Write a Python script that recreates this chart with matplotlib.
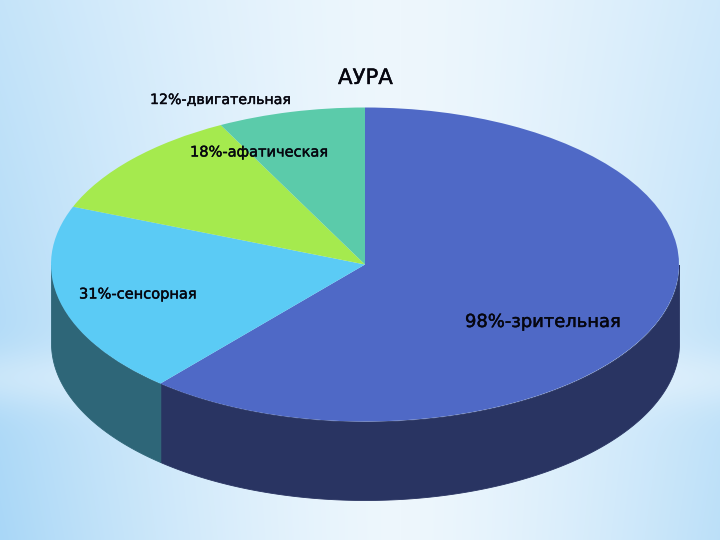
import numpy as np
import matplotlib
matplotlib.use("Agg")
import matplotlib.pyplot as plt
import matplotlib.patheffects as pe
from matplotlib.colors import to_rgb

title = "АУРА"
categories = ["зрительная", "сенсорная", "афатическая", "двигательная"]
percents = [98, 31, 18, 12]              # as printed in the labels
shares = [61.3, 19.7, 11.4, 7.6]         # slice sizes
top_colors = ["#4F69C6", "#5BCBF5", "#A5EA4E", "#5BCBAA"]
side_colors = ["#293462", "#2E6678", "#5A8A2A", "#2F7A66"]

W, H = 720, 540
CX, CY, RX, RY, DEPTH = 365, 264.5, 314, 157, 78.5
FONT = "DejaVu Sans"

fig = plt.figure(figsize=(W / 100, H / 100), dpi=100)

# background gradient
bg = fig.add_axes([0, 0, 1, 1], zorder=0)
bg.axis("off")
yy, xx = np.mgrid[0:H, 0:W]
u = np.clip(np.abs(xx - 400) / 400, 0, 1)
v = yy / H
edge = u ** 1.4 * (0.6 + 0.4 * v)
band = np.exp(-((yy - 378) / 30) ** 2) * 0.35 * u
amount = np.clip(edge - band, 0, 1)
c0 = np.array(to_rgb("#EEF7FD"))
c1 = np.array(to_rgb("#A9D7F7"))
img = c0[None, None, :] * (1 - amount[..., None]) + c1[None, None, :] * amount[..., None]
bg.imshow(img, aspect="auto", extent=(0, W, H, 0))

ax = fig.add_axes([0, 0, 1, 1], zorder=1)
d = DEPTH / RY

# side walls from the cumulative shares (clockwise from the top)
frac = np.cumsum([0] + shares) / sum(shares)
starts = np.pi / 2 - 2 * np.pi * frac[:-1]
ends = np.pi / 2 - 2 * np.pi * frac[1:]
for a0, a1, col in zip(starts, ends, side_colors):
    th = np.linspace(a0, a1, 400)
    th = th[np.sin(th) <= 0]
    if th.size:
        x = np.cos(th)
        y = np.sin(th)
        ax.fill_between(x, y, y - d, color=col, lw=0.6, zorder=1)

ax.pie(shares, colors=top_colors, startangle=90, counterclock=False, radius=1,
       wedgeprops=dict(linewidth=0, zorder=2))
ax.set_aspect("auto")
ax.set_xlim(-CX / RX, (W - CX) / RX)
ax.set_ylim(-(H - CY) / RY, CY / RY)
ax.axis("off")

def label(px, py, s, size):
    t = fig.text(px / W, 1 - py / H, s, fontsize=size, family=FONT, color="#06060F",
                 ha="left", va="center", zorder=5)
    t.set_path_effects([pe.withStroke(linewidth=0.3, foreground="#06060F")])

label(338, 78, title, 15.3)
label(150, 100, f"{percents[3]}%-{categories[3]}", 10.2)
label(190, 152, f"{percents[2]}%-{categories[2]}", 10.5)
label(79, 294, f"{percents[1]}%-{categories[1]}", 10.5)
label(465, 322, f"{percents[0]}%-{categories[0]}", 12.9)

fig.savefig("out.png", dpi=100)
